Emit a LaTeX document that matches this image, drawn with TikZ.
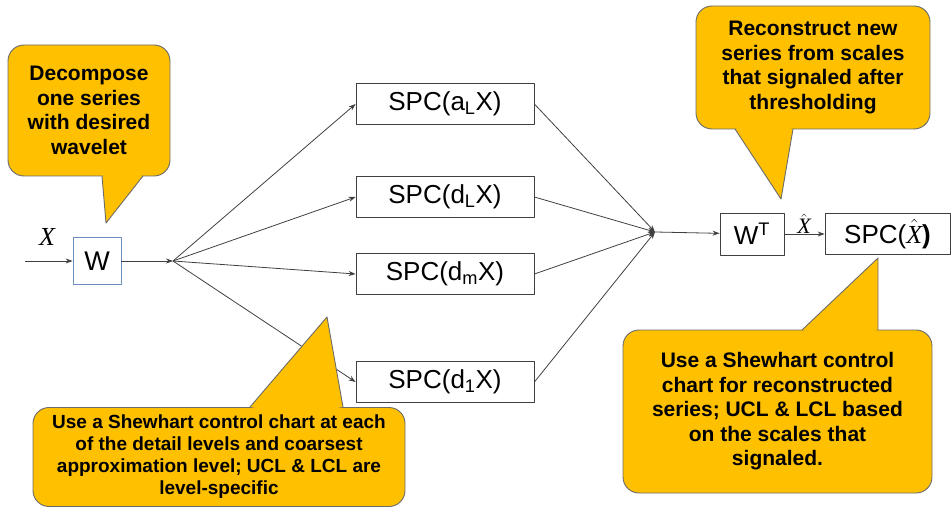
\documentclass[tikz,border=0pt]{standalone}
\usepackage{fontspec}
\setmainfont{Liberation Sans}
\newfontfamily\xfont{Liberation Serif}
\usetikzlibrary{arrows.meta}
\definecolor{calloutyellow}{HTML}{FFC000}
\definecolor{calloutline}{HTML}{6B6B6B}
\definecolor{wblue}{HTML}{6C8EBF}
\definecolor{wiregray}{HTML}{404040}
\newcommand{\xvar}{{\xfont\itshape X}}
\newcommand{\xhatvar}{$\hat{\hbox{\xvar}}$}
\tikzset{
  spcbox/.style={draw=black!75, line width=0.8pt, minimum width=178pt, minimum height=41pt, inner sep=0pt, font=\fontsize{26}{30}\selectfont},
  callout/.style={draw=calloutline, fill=calloutyellow, rounded corners=16pt, line width=0.9pt, inner sep=0pt, align=center, font=\bfseries\fontsize{21}{24.5}\selectfont},
  wire/.style={draw=wiregray, line width=0.8pt},
}
\begin{document}
\begin{tikzpicture}[x=1pt, y=-1pt, line join=round, >={Stealth[length=7pt,width=5pt]}]
\useasboundingbox (0,0) rectangle (951,508);
\path
(25,261) coordinate (in)
(173,261) coordinate (split)
(655,232) coordinate (merge)
(102,176) coordinate (decL)
(106,223) coordinate (decTip)
(143,176) coordinate (decR)
(122,168) coordinate (decIn)
(735,129) coordinate (recL)
(781,199) coordinate (recTip)
(793,129) coordinate (recR)
(764,121) coordinate (recIn)
(250,407) coordinate (levL)
(327,317) coordinate (levTip)
(343,407) coordinate (levR)
(296,415) coordinate (levIn)
(802,330) coordinate (rcsL)
(878,258) coordinate (rcsTip)
(878,330) coordinate (rcsR)
(840,338) coordinate (rcsIn)
;
\node[draw=wblue, line width=0.8pt, minimum width=48pt, minimum height=47pt, inner sep=0pt, font=\fontsize{27}{30}\selectfont] (w) at (97,261) {W};
\node[inner sep=0pt, font=\fontsize{26}{28}\selectfont] (xin) at (47,237) {\xvar};
\foreach \n/\y/\s in {al/104/a\textsubscript{L}, dl/197/d\textsubscript{L}, dm/274/d\textsubscript{m}, done/382/d\textsubscript{1}}
  \node[spcbox] (\n) at (445,\y) {SPC(\s X)};
\node[draw=black!75, line width=0.8pt, minimum width=64pt, minimum height=42pt, inner sep=0pt, font=\fontsize{26}{30}\selectfont] (wt) at (752,234) {W\textsuperscript{T}};
\node[spcbox, minimum width=125pt] (spcx) at (887.5,234) {SPC(\xhatvar\textbf{)}};
\node[inner sep=0pt, font=\fontsize{22}{24}\selectfont] (xhat) at (804,224) {\xhatvar};
\draw[wire,->] (in) -- (w);
\draw[wire,->] (w) -- (split);
\foreach \n in {al,dl,dm,done} {
  \draw[wire,->] (split) -- (\n.west);
  \draw[wire,->] (\n.east) -- (merge);
}
\draw[wire,->] (merge) -- (wt);
\draw[wire,->] (wt) -- (spcx);
% callouts
\node[callout, minimum width=162pt, minimum height=131pt] (dec) at (89,110.5) {Decompose\\one series\\with desired\\wavelet};
\node[callout, minimum width=234pt, minimum height=123pt] (rec) at (813,67.5) {Reconstruct new\\series from scales\\that signaled after\\thresholding};
\node[callout, minimum width=372pt, minimum height=99pt, font=\bfseries\fontsize{19}{22}\selectfont] (lev) at (219,457) {Use a Shewhart control chart at each\\of the detail levels and coarsest\\approximation level; UCL \& LCL are\\level-specific};
\node[callout, minimum width=309pt, minimum height=163pt] (rcs) at (777.5,411.5) {Use a Shewhart control\\chart for reconstructed\\series; UCL \& LCL based\\on the scales that\\signaled.};
\foreach \a/\t/\b/\i in {decL/decTip/decR/decIn, recL/recTip/recR/recIn, levL/levTip/levR/levIn, rcsL/rcsTip/rcsR/rcsIn} {
  \fill[calloutyellow] (\a) -- (\t) -- (\b) -- (\i) -- cycle;
  \draw[calloutline, line width=0.9pt] (\a) -- (\t) -- (\b);
}
\end{tikzpicture}
\end{document}
